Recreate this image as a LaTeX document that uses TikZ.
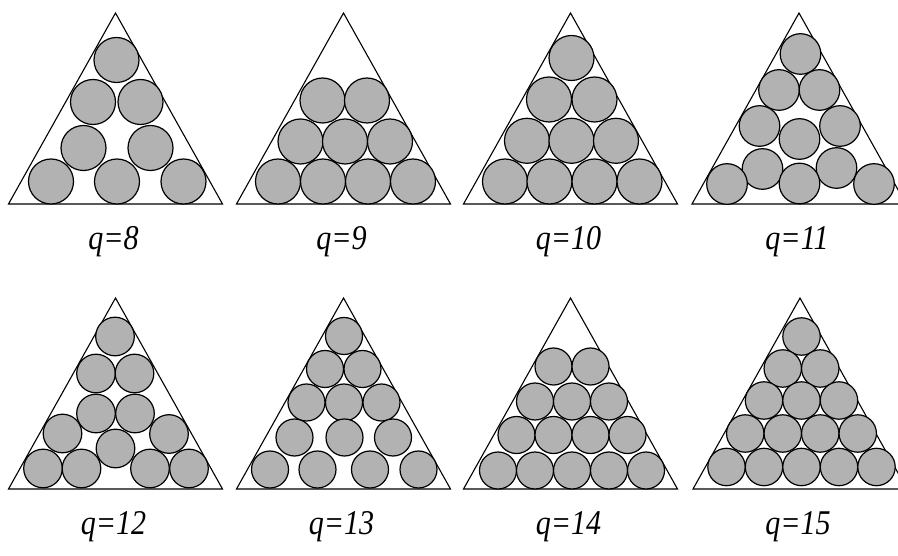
\documentclass[tikz,border=0pt]{standalone}
\usepackage{fontspec}
\setmainfont{Liberation Serif}
\begin{document}
\begin{tikzpicture}[x=1pt,y=-1pt,
  frame/.style={line width=1.1pt, line join=miter},
  disc/.style={draw, line width=1.2pt, fill=black!30},
  lab/.style={font=\fontsize{31}{34}\selectfont\itshape}]
\clip (0,0) rectangle (898,556);
% triangles and labels
\foreach \c/\t/\n in {115.5/13/8, 343.5/13/9, 570.5/13/10, 799/13/11,
                      115.5/298/12, 343.5/298/13, 570.5/298/14, 800/298/15} {
  \draw[frame] (\c,\t) -- (\c+107,\t+191) -- (\c-107,\t+191) -- cycle;
  \node[lab] (q\n) at (\c-2,\t+229) {\scalebox{0.97}[1.12]{q=\n}};
}
% q=8
\foreach \x/\y in {116.5/60, 93/102, 140.5/102, 83.5/148, 150.5/148,
                   51/181.5, 117/181.5, 183.5/181.5}
  \draw[disc] (\x,\y) circle[radius=22.5];
% q=9
\foreach \x/\y in {322.5/100.5, 367/100.5, 300.5/141.5, 345/141.5, 390/141.5,
                   278/181.5, 323/181.5, 368/181.5, 413/181.5}
  \draw[disc] (\x,\y) circle[radius=22.5];
% q=10
\foreach \x/\y in {571.5/58, 549/99.5, 594.5/99.5, 527/140.8, 571.5/140.8, 616/140.8,
                   505/181.5, 549.5/181.5, 594.5/181.5, 639.5/181.5}
  \draw[disc] (\x,\y) circle[radius=22.5];
% q=11
\foreach \x/\y in {800.5/54, 779/90, 819.5/90, 759.5/126, 840/126, 799.5/139,
                   762.5/169, 836.5/168, 727/184, 799.5/183.5, 874/184}
  \draw[disc] (\x,\y) circle[radius=20.3];
% q=12
\foreach \x/\y in {115/336.5, 96/373.5, 134.5/373.5, 96/413.5, 135/413.5,
                   62.5/433.5, 169/434, 115.5/448.5,
                   43/468.5, 81.5/468.5, 150/468.5, 189/468.5}
  \draw[disc] (\x,\y) circle[radius=19.3];
% q=13
\foreach \x/\y in {344/336, 325/369, 362.5/369, 306.5/402.5, 344/402.5, 381.5/402.5,
                   294.5/437.5, 344.5/437.5, 393/437.5,
                   270/469.5, 317.5/469.5, 370/469.5, 418.5/469.5}
  \draw[disc] (\x,\y) circle[radius=18.5];
% q=14
\foreach \x/\y in {553.5/366.5, 590.5/366.5, 535/401.5, 572/401.5, 609/401.5,
                   516.5/435, 553.5/435, 590.5/435, 627.5/435,
                   498/470.5, 535/470.5, 572/470.5, 609/470.5, 646/470.5}
  \draw[disc] (\x,\y) circle[radius=18.5];
% q=15
\foreach \x/\y in {801.5/336.5, 782.75/368.5, 820.25/368.5,
                   764/400.5, 801.5/400.5, 839/400.5,
                   745.25/433.5, 782.75/433.5, 820.25/433.5, 857.75/433.5,
                   726.5/467, 764/467, 801.5/467, 839/467, 876.5/467}
  \draw[disc] (\x,\y) circle[radius=18.7];
\end{tikzpicture}
\end{document}
